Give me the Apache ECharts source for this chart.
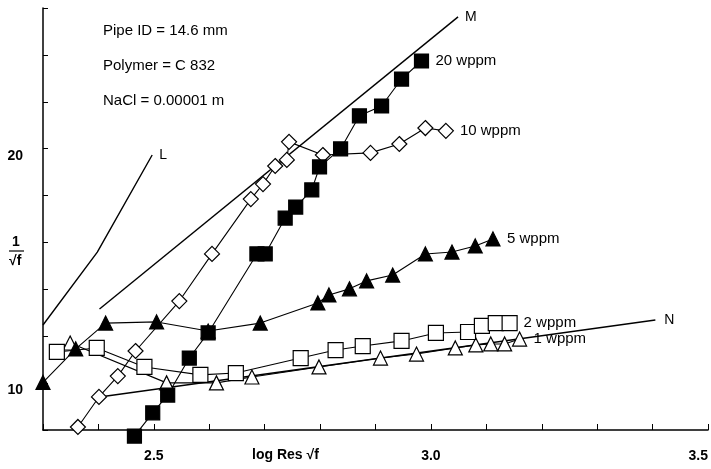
<!DOCTYPE html>
<html>
<head>
<meta charset="utf-8">
<script src="https://cdn.jsdelivr.net/npm/echarts@6/dist/echarts.min.js"></script>
<style>html,body{margin:0;padding:0;background:#fff}#c{width:711px;height:469px}</style>
</head>
<body>
<div id="c"></div>
<script>
// ---- tick labels ----
const xTickLabels = ['2.5', '3.0', '3.5'];
const yTickLabels = ['10', '20'];

// ---- reference lines L, M, N ----
const xL = [2.300, 2.398, 2.497];
const yL = [12.48, 15.59, 19.73];
const xM = [2.402, 3.049];
const yM = [13.16, 25.62];
const xN = [2.402, 3.405];
const yN = [9.41, 12.69];

// ---- 20 wppm (filled squares) ----
const x20 = [2.465, 2.498, 2.525, 2.564, 2.598, 2.686, 2.701, 2.737, 2.756, 2.785, 2.799, 2.837, 2.871, 2.911, 2.947, 2.983];
const y20 = [7.74, 8.73, 9.49, 11.07, 12.14, 15.51, 15.51, 17.04, 17.51, 18.24, 19.22, 19.99, 21.40, 21.82, 22.97, 23.74];

// ---- 10 wppm (open diamonds) ----
const x10 = [2.363, 2.401, 2.435, 2.467, 2.546, 2.605, 2.675, 2.697, 2.719, 2.740, 2.744, 2.805, 2.891, 2.943, 2.990, 3.027];
const y10 = [8.13, 9.41, 10.30, 11.37, 13.50, 15.51, 17.85, 18.49, 19.26, 19.52, 20.29, 19.73, 19.82, 20.20, 20.88, 20.76];

// ---- 5 wppm (filled triangles) ----
const x5 = [2.300, 2.359, 2.413, 2.505, 2.598, 2.692, 2.796, 2.816, 2.853, 2.884, 2.931, 2.990, 3.038, 3.080, 3.112];
const y5 = [10.03, 11.46, 12.56, 12.61, 12.22, 12.56, 13.42, 13.76, 14.02, 14.36, 14.61, 15.51, 15.59, 15.85, 16.15];

// ---- 2 wppm (open squares) ----
const x2 = [2.325, 2.397, 2.483, 2.584, 2.648, 2.765, 2.828, 2.877, 2.947, 3.009, 3.067, 3.092, 3.117, 3.142];
const y2 = [11.33, 11.50, 10.69, 10.35, 10.43, 11.07, 11.41, 11.58, 11.80, 12.14, 12.18, 12.44, 12.56, 12.56];

// ---- 1 wppm (open triangles) ----
const x1 = [2.349, 2.523, 2.613, 2.677, 2.798, 2.909, 2.974, 3.044, 3.081, 3.108, 3.133, 3.160];
const y1 = [11.71, 10.01, 10.01, 10.26, 10.69, 11.07, 11.24, 11.50, 11.63, 11.67, 11.67, 11.88];

const pairs = (xs, ys) => xs.map((x, i) => [x, ys[i]]);
const FONT = 'Liberation Sans, Arial, Helvetica, sans-serif';

function refLine(name, xs, ys, dist) {
  return {
    type: 'line', name, data: pairs(xs, ys), symbol: 'none', clip: false,
    lineStyle: { color: '#000', width: 1.4 },
    endLabel: { show: true, formatter: name, distance: dist, color: '#000', fontSize: 14, fontFamily: FONT },
    z: 2
  };
}
function markerSeries(name, xs, ys, symbol, size, filled, lineType) {
  return {
    type: 'line', name, data: pairs(xs, ys), symbol, symbolSize: size, clip: false,
    showSymbol: true,
    lineStyle: { color: '#000', width: 1.1, type: lineType || 'solid' },
    itemStyle: { color: filled ? '#000' : '#fff', borderColor: '#000', borderWidth: 1.2, opacity: 1 },
    endLabel: { show: true, formatter: name, distance: 14, color: '#000', fontSize: 15, fontFamily: FONT },
    z: 3
  };
}

const chart = echarts.init(document.getElementById('c'), null, { renderer: 'canvas' });
chart.setOption({
  animation: false,
  backgroundColor: '#fff',
  grid: { left: 43, right: 0, top: 8, bottom: 39, containLabel: false },
  xAxis: {
    type: 'value', min: 2.3, max: 3.5, interval: 0.1,
    axisLine: { show: true, onZero: false, lineStyle: { color: '#000', width: 1.5 } },
    axisTick: { show: true, inside: true, length: 6, lineStyle: { color: '#000', width: 1 } },
    splitLine: { show: false },
    axisLabel: {
      margin: 19, color: '#000', fontSize: 14, fontFamily: FONT, fontWeight: 'bold',
      showMinLabel: true, showMaxLabel: true, alignMaxLabel: 'right',
      formatter: v => { const s = Number(v).toFixed(1); return xTickLabels.includes(s) ? s : ''; }
    }
  },
  yAxis: {
    type: 'value', min: 8, max: 26, interval: 2,
    axisLine: { show: true, onZero: false, lineStyle: { color: '#000', width: 1.5 } },
    axisTick: { show: true, inside: true, length: 5, lineStyle: { color: '#000', width: 1 } },
    splitLine: { show: false },
    axisLabel: {
      margin: 20, color: '#000', fontSize: 14, fontFamily: FONT, fontWeight: 'bold', verticalAlign: 'top',
      formatter: v => { const s = String(Math.round(v)); return yTickLabels.includes(s) ? s : ''; }
    }
  },
  graphic: [
    { type: 'text', left: 103, top: 23, style: { text: 'Pipe ID = 14.6 mm', fill: '#000', font: '15px ' + FONT } },
    { type: 'text', left: 103, top: 58, style: { text: 'Polymer = C 832', fill: '#000', font: '15px ' + FONT } },
    { type: 'text', left: 103, top: 93, style: { text: 'NaCl = 0.00001 m', fill: '#000', font: '15px ' + FONT } },
    { type: 'text', left: 252, top: 448, style: { text: 'log Res \u221Af', fill: '#000', font: 'bold 14px ' + FONT } },
    { type: 'text', left: 12, top: 235, style: { text: '1', fill: '#000', font: 'bold 14px ' + FONT } },
    { type: 'line', shape: { x1: 9, y1: 251, x2: 24, y2: 251 }, style: { stroke: '#000', lineWidth: 1.2 } },
    { type: 'text', left: 9, top: 254, style: { text: '\u221Af', fill: '#000', font: 'bold 14px ' + FONT } }
  ],
  series: [
    refLine('L', xL, yL, 7),
    refLine('M', xM, yM, 7),
    refLine('N', xN, yN, 9),
    markerSeries('1 wppm', x1, y1, 'triangle', 14, false),
    markerSeries('2 wppm', x2, y2, 'rect', 15, false),
    markerSeries('5 wppm', x5, y5, 'triangle', 14, true),
    markerSeries('10 wppm', x10, y10, 'diamond', 15, false),
    markerSeries('20 wppm', x20, y20, 'rect', 14, true)
  ]
});
</script>
</body>
</html>
